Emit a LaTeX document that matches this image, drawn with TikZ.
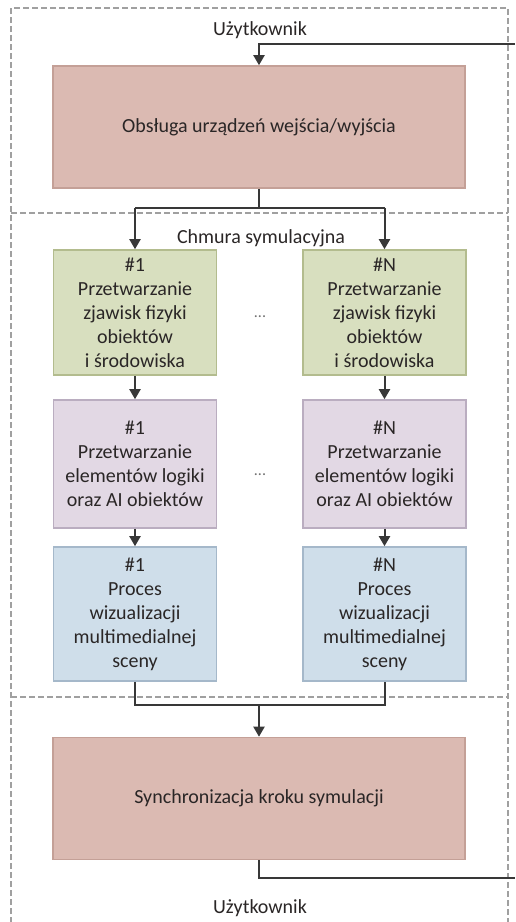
\documentclass[tikz,border=0pt]{standalone}
\usepackage{fontspec}
\setmainfont{Carlito}
\usetikzlibrary{arrows.meta}

\definecolor{pinkfill}{HTML}{DBBAB2}
\definecolor{pinkline}{HTML}{C4A097}
\definecolor{greenfill}{HTML}{D8DFBF}
\definecolor{greenline}{HTML}{B3BC8E}
\definecolor{violetfill}{HTML}{E2D8E4}
\definecolor{violetline}{HTML}{BAADC0}
\definecolor{bluefill}{HTML}{CFDEEA}
\definecolor{blueline}{HTML}{A5B8CA}
\definecolor{wire}{HTML}{383838}
\definecolor{zone}{HTML}{A0A0A0}
\definecolor{txt}{HTML}{2A2626}

\tikzset{
  block/.style={draw, line width=1.6pt, align=center, text=txt,
    font=\fontsize{20}{24}\selectfont, inner sep=0pt},
  wide/.style={block, fill=pinkfill, draw=pinkline,
    minimum width=412pt, minimum height=122pt},
  physbox/.style={block, fill=greenfill, draw=greenline,
    minimum width=163pt, minimum height=125pt},
  logicbox/.style={block, fill=violetfill, draw=violetline,
    minimum width=163pt, minimum height=128pt},
  visbox/.style={block, fill=bluefill, draw=blueline,
    minimum width=163pt, minimum height=134pt},
  zonelbl/.style={text=txt, font=\fontsize{20}{24}\selectfont},
  dots/.style={text=zone!70!black, font=\fontsize{16}{18}\selectfont},
  link/.style={draw=wire, line width=2pt},
  flow/.style={link, -{Triangle[length=10pt,width=11pt]}},
  zoneline/.style={draw=zone, line width=1.6pt, dash pattern=on 6pt off 3pt},
}

\begin{document}
\begin{tikzpicture}[x=1pt, y=-1pt]
  \useasboundingbox (0,0) rectangle (515,922);

  % zone borders
  \draw[zoneline] (11,950) -- (11,8) -- (508,8) -- (508,950);
  \draw[zoneline] (11,213) -- (508,213);
  \draw[zoneline] (11,697) -- (508,697);

  % zone labels
  \node[zonelbl] (userTop) at (260,30) {Użytkownik};
  \node[zonelbl] (cloud) at (261,238) {Chmura symulacyjna};
  \node[zonelbl] (userBot) at (260,908) {Użytkownik};

  % blocks
  \node[wide] (io) at (259,127) {Obsługa urządzeń wejścia/wyjścia};

  \node[physbox] (g1) at (135,312.5) {\#1\\Przetwarzanie\\zjawisk fizyki\\obiektów\\i środowiska};
  \node[physbox] (gN) at (384.5,312.5) {\#N\\Przetwarzanie\\zjawisk fizyki\\obiektów\\i środowiska};

  \node[logicbox] (p1) at (135,464) {\#1\\Przetwarzanie\\elementów logiki\\oraz AI obiektów};
  \node[logicbox] (pN) at (384.5,464) {\#N\\Przetwarzanie\\elementów logiki\\oraz AI obiektów};

  \node[visbox] (b1) at (135,614) {\#1\\Proces\\wizualizacji\\multimedialnej\\sceny};
  \node[visbox] (bN) at (384.5,614) {\#N\\Proces\\wizualizacji\\multimedialnej\\sceny};

  \node[wide] (sync) at (259,798.5) {Synchronizacja kroku symulacji};

  \node[dots] (dotsA) at (260,317) {...};
  \node[dots] (dotsB) at (260,475) {...};

  % connectors
  \coordinate (inEnd) at (515,44);
  \coordinate (outEnd) at (515,878);

  \draw[flow] (inEnd) -- (io.north |- inEnd) -- (io.north);
  \draw[link] (io.south) -- ++(0,19) coordinate (split);
  \draw[flow] (g1.north |- split) -- (g1.north);
  \draw[flow] (gN.north |- split) -- (gN.north);
  \draw[link] (g1.north |- split) -- (gN.north |- split);

  \draw[flow] (g1.south) -- (p1.north);
  \draw[flow] (gN.south) -- (pN.north);
  \draw[flow] (p1.south) -- (b1.north);
  \draw[flow] (pN.south) -- (bN.north);

  \draw[link] (b1.south) -- ++(0,23) coordinate (join1)
              -- (bN.south |- join1) -- (bN.south);
  \draw[flow] (sync.north |- join1) -- (sync.north);

  \draw[link] (sync.south) -- (sync.south |- outEnd) -- (outEnd);
\end{tikzpicture}
\end{document}
